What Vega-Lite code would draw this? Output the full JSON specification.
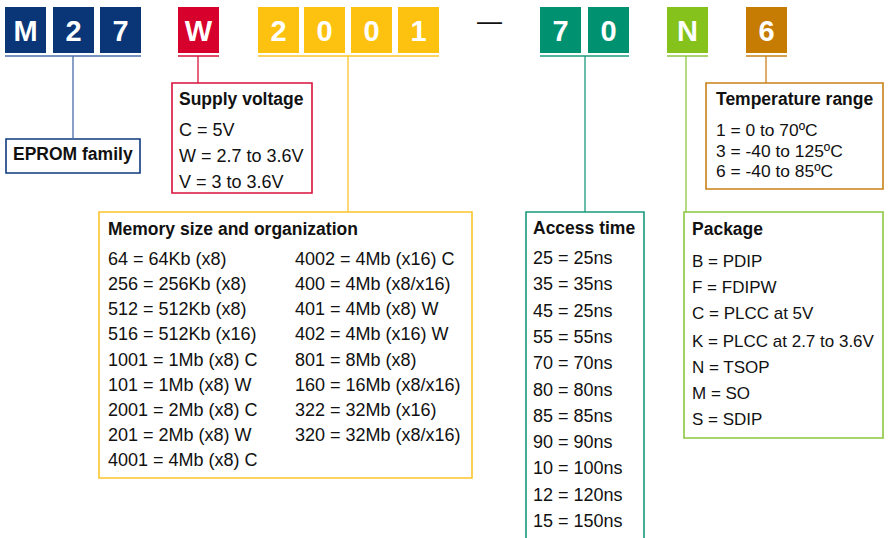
{
  "$schema": "https://vega.github.io/schema/vega-lite/v6.json",
  "width": 891,
  "height": 538,
  "padding": 0,
  "autosize": {"type": "none"},
  "background": "white",
  "config": {"view": {"stroke": null}, "text": {"font": "Liberation Sans"}},
  "datasets": {
    "chars": [
      {"t": "M", "g": "fam", "x": 5, "x2": 46},
      {"t": "2", "g": "fam", "x": 53, "x2": 94},
      {"t": "7", "g": "fam", "x": 100, "x2": 141},
      {"t": "W", "g": "volt", "x": 178, "x2": 219},
      {"t": "2", "g": "mem", "x": 258, "x2": 299},
      {"t": "0", "g": "mem", "x": 304, "x2": 345},
      {"t": "0", "g": "mem", "x": 351, "x2": 392},
      {"t": "1", "g": "mem", "x": 398, "x2": 439},
      {"t": "7", "g": "acc", "x": 540, "x2": 581},
      {"t": "0", "g": "acc", "x": 588, "x2": 629},
      {"t": "N", "g": "pkg", "x": 667, "x2": 708},
      {"t": "6", "g": "temp", "x": 746, "x2": 787}
    ],
    "underlines": [
      {"g": "fam", "x": 5, "x2": 141},
      {"g": "volt", "x": 178, "x2": 219},
      {"g": "mem", "x": 258, "x2": 439},
      {"g": "acc", "x": 540, "x2": 629},
      {"g": "pkg", "x": 667, "x2": 708},
      {"g": "temp", "x": 746, "x2": 787}
    ],
    "connectors": [
      {"g": "fam", "x": 73, "y": 56, "y2": 139},
      {"g": "volt", "x": 198, "y": 56, "y2": 83},
      {"g": "mem", "x": 348, "y": 56, "y2": 212},
      {"g": "acc", "x": 585, "y": 56, "y2": 212},
      {"g": "pkg", "x": 686, "y": 56, "y2": 212},
      {"g": "temp", "x": 766, "y": 56, "y2": 83}
    ],
    "frames": [
      {"g": "fam", "x": 6, "x2": 140, "y": 139, "y2": 173},
      {"g": "volt", "x": 172, "x2": 312, "y": 83, "y2": 193},
      {"g": "mem", "x": 99, "x2": 472, "y": 212, "y2": 478},
      {"g": "acc", "x": 526, "x2": 644, "y": 212, "y2": 560},
      {"g": "pkg", "x": 684, "x2": 883, "y": 212, "y2": 438},
      {"g": "temp", "x": 706, "x2": 883, "y": 83, "y2": 189}
    ],
    "titles": [
      {"t": "EPROM family", "x": 13, "y": 160},
      {"t": "Supply voltage", "x": 179, "y": 105},
      {"t": "Memory size and organization", "x": 108, "y": 235},
      {"t": "Access time", "x": 533, "y": 234},
      {"t": "Package", "x": 692, "y": 235},
      {"t": "Temperature range", "x": 716, "y": 105}
    ],
    "items": [
      {"t": "C = 5V", "x": 179, "y": 136},
      {"t": "W = 2.7 to 3.6V", "x": 179, "y": 162},
      {"t": "V = 3 to 3.6V", "x": 179, "y": 188},
      {"t": "64 = 64Kb (x8)", "x": 108, "y": 265},
      {"t": "256 = 256Kb (x8)", "x": 108, "y": 290},
      {"t": "512 = 512Kb (x8)", "x": 108, "y": 315},
      {"t": "516 = 512Kb (x16)", "x": 108, "y": 340},
      {"t": "1001 = 1Mb (x8) C", "x": 108, "y": 366},
      {"t": "101 = 1Mb (x8) W", "x": 108, "y": 391},
      {"t": "2001 = 2Mb (x8) C", "x": 108, "y": 416},
      {"t": "201 = 2Mb (x8) W", "x": 108, "y": 441},
      {"t": "4001 = 4Mb (x8) C", "x": 108, "y": 466},
      {"t": "4002 = 4Mb (x16) C", "x": 295, "y": 265},
      {"t": "400 = 4Mb (x8/x16)", "x": 295, "y": 290},
      {"t": "401 = 4Mb (x8) W", "x": 295, "y": 315},
      {"t": "402 = 4Mb (x16) W", "x": 295, "y": 340},
      {"t": "801 = 8Mb (x8)", "x": 295, "y": 366},
      {"t": "160 = 16Mb (x8/x16)", "x": 295, "y": 391},
      {"t": "322 = 32Mb (x16)", "x": 295, "y": 416},
      {"t": "320 = 32Mb (x8/x16)", "x": 295, "y": 441},
      {"t": "25 = 25ns", "x": 533, "y": 264},
      {"t": "35 = 35ns", "x": 533, "y": 290},
      {"t": "45 = 25ns", "x": 533, "y": 316.7},
      {"t": "55 = 55ns", "x": 533, "y": 342.7},
      {"t": "70 = 70ns", "x": 533, "y": 369},
      {"t": "80 = 80ns", "x": 533, "y": 395.7},
      {"t": "85 = 85ns", "x": 533, "y": 421.7},
      {"t": "90 = 90ns", "x": 533, "y": 448.3},
      {"t": "10 = 100ns", "x": 533, "y": 474.3},
      {"t": "12 = 120ns", "x": 533, "y": 500.7},
      {"t": "15 = 150ns", "x": 533, "y": 527}
    ],
    "pkgitems": [
      {"t": "B = PDIP", "x": 692, "y": 266.7},
      {"t": "F = FDIPW", "x": 692, "y": 293.3},
      {"t": "C = PLCC at 5V", "x": 692, "y": 319.3},
      {"t": "K = PLCC at 2.7 to 3.6V", "x": 692, "y": 346.7},
      {"t": "N = TSOP", "x": 692, "y": 372.7},
      {"t": "M = SO", "x": 692, "y": 399.3},
      {"t": "S = SDIP", "x": 692, "y": 425.3}
    ],
    "tempitems": [
      {"t": "1 = 0 to 70ºC", "x": 716, "y": 136},
      {"t": "3 = -40 to 125ºC", "x": 716, "y": 157},
      {"t": "6 = -40 to 85ºC", "x": 716, "y": 177}
    ],
    "dash": [
      {"t": "—", "x": 489.5, "y": 29.5}
    ]
  },
  "layer": [
    {
      "data": {"name": "frames"},
      "mark": {"type": "rect", "fill": "white", "strokeWidth": 1.6, "clip": true},
      "encoding": {
        "x": {"field": "x", "type": "quantitative", "scale": {"domain": [0, 891], "nice": false, "zero": false}, "axis": null},
        "x2": {"field": "x2"},
        "y": {"field": "y", "type": "quantitative", "scale": {"domain": [0, 538], "nice": false, "zero": false, "reverse": true}, "axis": null},
        "y2": {"field": "y2"},
        "stroke": {"field": "g", "type": "nominal", "legend": null,
          "scale": {"domain": ["fam", "volt", "mem", "acc", "pkg", "temp"], "range": ["#0d3a7e", "#d9113a", "#fcc52a", "#1a9a7c", "#8cc63f", "#c98018"]}}
      }
    },
    {
      "data": {"name": "connectors"},
      "mark": {"type": "rule", "strokeWidth": 1.3},
      "encoding": {
        "x": {"field": "x", "type": "quantitative", "axis": null},
        "y": {"field": "y", "type": "quantitative", "axis": null},
        "y2": {"field": "y2"},
        "color": {"field": "g", "type": "nominal", "legend": null,
          "scale": {"domain": ["fam", "volt", "mem", "acc", "pkg", "temp"], "range": ["#4a6ea8", "#d9113a", "#fcc52a", "#1a9a7c", "#8cc63f", "#c98018"]}}
      }
    },
    {
      "data": {"name": "underlines"},
      "mark": {"type": "rule", "strokeWidth": 1.5},
      "encoding": {
        "x": {"field": "x", "type": "quantitative", "axis": null},
        "x2": {"field": "x2"},
        "y": {"datum": 56, "type": "quantitative", "axis": null},
        "color": {"field": "g", "type": "nominal", "legend": null}
      }
    },
    {
      "data": {"name": "chars"},
      "mark": {"type": "rect"},
      "encoding": {
        "x": {"field": "x", "type": "quantitative", "axis": null},
        "x2": {"field": "x2"},
        "y": {"datum": 7, "type": "quantitative", "axis": null},
        "y2": {"datum": 53},
        "fill": {"field": "g", "type": "nominal", "legend": null,
          "scale": {"domain": ["fam", "volt", "mem", "acc", "pkg", "temp"], "range": ["#0a3677", "#d7002c", "#fdc20f", "#009270", "#85c31c", "#c67c03"]}}
      }
    },
    {
      "data": {"name": "chars"},
      "mark": {"type": "text", "align": "center", "baseline": "alphabetic", "dx": 20.5, "fontSize": 29, "fontWeight": "bold", "color": "white"},
      "encoding": {
        "x": {"field": "x", "type": "quantitative", "axis": null},
        "y": {"datum": 41, "type": "quantitative", "axis": null},
        "text": {"field": "t"}
      }
    },
    {
      "data": {"name": "dash"},
      "mark": {"type": "text", "align": "center", "baseline": "alphabetic", "fontSize": 25, "color": "#111111"},
      "encoding": {
        "x": {"field": "x", "type": "quantitative", "axis": null},
        "y": {"field": "y", "type": "quantitative", "axis": null},
        "text": {"field": "t"}
      }
    },
    {
      "data": {"name": "titles"},
      "mark": {"type": "text", "align": "left", "baseline": "alphabetic", "fontSize": 17.5, "fontWeight": "bold", "color": "#111111"},
      "encoding": {
        "x": {"field": "x", "type": "quantitative", "axis": null},
        "y": {"field": "y", "type": "quantitative", "axis": null},
        "text": {"field": "t"}
      }
    },
    {
      "data": {"name": "items"},
      "mark": {"type": "text", "align": "left", "baseline": "alphabetic", "fontSize": 18, "color": "#111111"},
      "encoding": {
        "x": {"field": "x", "type": "quantitative", "axis": null},
        "y": {"field": "y", "type": "quantitative", "axis": null},
        "text": {"field": "t"}
      }
    },
    {
      "data": {"name": "pkgitems"},
      "mark": {"type": "text", "align": "left", "baseline": "alphabetic", "fontSize": 17, "color": "#111111"},
      "encoding": {
        "x": {"field": "x", "type": "quantitative", "axis": null},
        "y": {"field": "y", "type": "quantitative", "axis": null},
        "text": {"field": "t"}
      }
    },
    {
      "data": {"name": "tempitems"},
      "mark": {"type": "text", "align": "left", "baseline": "alphabetic", "fontSize": 17.4, "color": "#111111"},
      "encoding": {
        "x": {"field": "x", "type": "quantitative", "axis": null},
        "y": {"field": "y", "type": "quantitative", "axis": null},
        "text": {"field": "t"}
      }
    }
  ]
}
